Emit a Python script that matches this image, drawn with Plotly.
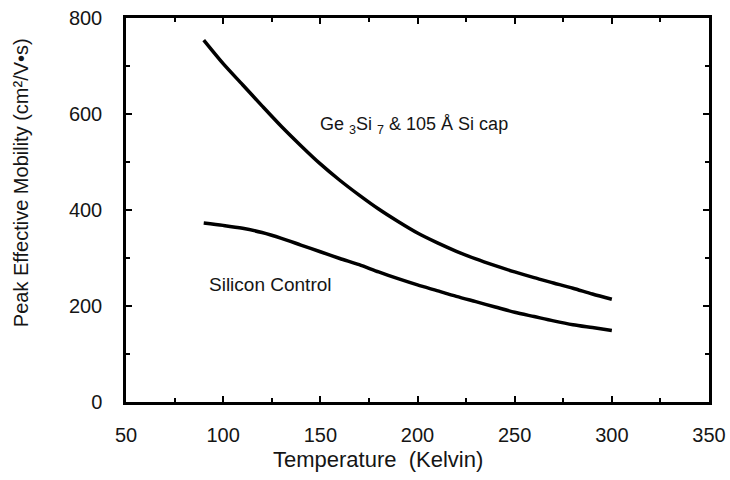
import plotly.graph_objects as go

temperature = [90, 100, 110, 120, 130, 140, 150, 160, 170, 180, 190, 200,
               210, 220, 230, 240, 250, 260, 270, 280, 290, 300]
gesi_mobility = [754, 705, 661, 617, 574, 534, 496, 462, 431, 402, 376, 352,
                 332, 314, 298, 284, 271, 259, 248, 237, 225, 214]
si_mobility = [373, 368, 362, 353, 341, 327, 313, 299, 286, 271, 257, 244,
               232, 220, 209, 198, 187, 178, 169, 161, 155, 149]

x_ticks = [50, 100, 150, 200, 250, 300, 350]
y_ticks = [0, 200, 400, 600, 800]

label_gesi = "Ge <sub>3</sub>Si <sub>7</sub> & 105 Å Si cap"
label_si = "Silicon Control"
x_title = "Temperature  (Kelvin)"
y_title = "Peak Effective Mobility (cm²/V•s)"

font_family = "Liberation Sans, Arial, Helvetica, sans-serif"
text_color = "#151515"

fig = go.Figure()
for series in (gesi_mobility, si_mobility):
    fig.add_trace(go.Scatter(x=temperature, y=series, mode="lines",
                             line=dict(color="black", width=3.5, shape="spline",
                                       smoothing=0.8),
                             showlegend=False))

fig.add_annotation(x=198, y=577, text=label_gesi, showarrow=False,
                   font=dict(size=18, color=text_color, family=font_family))
fig.add_annotation(x=124.5, y=244, text=label_si, showarrow=False,
                   font=dict(size=19, color=text_color, family=font_family))

# axis titles placed as annotations to match the off-centre placement
fig.add_annotation(xref="paper", yref="paper", x=0.432, y=-0.151,
                   xanchor="center", yanchor="middle",
                   text=x_title, showarrow=False,
                   font=dict(size=22, color=text_color, family=font_family))
fig.add_annotation(xref="paper", yref="paper", x=-0.180, y=0.570,
                   xanchor="center", yanchor="middle",
                   text=y_title, showarrow=False, textangle=-90,
                   font=dict(size=20, color=text_color, family=font_family))

axis_common = dict(showline=True, linecolor="black", linewidth=2.5,
                   mirror="ticks", ticks="inside", ticklen=6, tickwidth=2,
                   tickcolor="black", showgrid=False, zeroline=False,
                   automargin=False, ticklabeloverflow="allow",
                   tickfont=dict(size=20, color=text_color, family=font_family))

fig.update_xaxes(range=[50, 350], tickmode="array", tickvals=x_ticks,
                 ticktext=[str(v) for v in x_ticks],
                 ticklabelstandoff=13,
                 minor=dict(ticks="inside", ticklen=4, tickwidth=2,
                            tickcolor="black", dtick=25, tick0=50),
                 **axis_common)
fig.update_yaxes(range=[0, 800], tickmode="array", tickvals=y_ticks,
                 ticktext=[str(v) for v in y_ticks],
                 ticklabelstandoff=17,
                 minor=dict(ticks="inside", ticklen=4, tickwidth=2,
                            tickcolor="black", dtick=100, tick0=0),
                 **axis_common)

fig.update_layout(width=730, height=480,
                  margin=dict(l=126, r=21, t=18, b=78),
                  paper_bgcolor="white", plot_bgcolor="white",
                  font=dict(family=font_family))

# remove the default page margin so the figure fills the 730x480 window
fig.write_html("out.html",
               config={"displayModeBar": False},
               post_script="document.body.style.margin='0';"
                           "document.body.style.overflow='hidden';")
